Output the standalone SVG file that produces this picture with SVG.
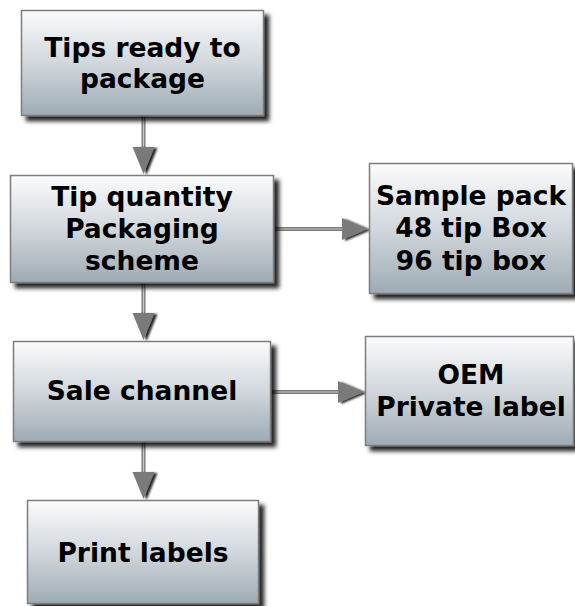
<svg xmlns="http://www.w3.org/2000/svg" width="575" height="606" viewBox="0 0 575 606">
<defs>
<linearGradient id="g" x1="0" y1="0" x2="0" y2="1">
<stop offset="0" stop-color="#fbfbfc"/>
<stop offset="0.5" stop-color="#d1d7dc"/>
<stop offset="1" stop-color="#9eabb4"/>
</linearGradient>
<filter id="sh" x="-10%" y="-10%" width="130%" height="130%">
<feDropShadow dx="5" dy="5" stdDeviation="2" flood-color="#000" flood-opacity="0.85"/>
</filter>
<filter id="ash" x="-30%" y="-30%" width="170%" height="170%">
<feDropShadow dx="3" dy="1" stdDeviation="0.8" flood-color="#000" flood-opacity="0.85"/>
</filter>
</defs>
<style>
.box{fill:url(#g);stroke:#7d7d7d;stroke-width:1.5;filter:url(#sh)}
.t{font-family:"DejaVu Sans",Verdana,sans-serif;font-weight:bold;font-size:26.5px;fill:#000;text-anchor:middle}
.ln{stroke:#7a7a7a;stroke-width:4;fill:none}
.lc{stroke:#c8c8c8;stroke-width:1.2;fill:none}
.ah{fill:#7a7a7a;filter:url(#ash)}
</style>
<g id="connectors">
<line class="ln" x1="143.5" y1="116" x2="143.5" y2="150"/>
<line class="lc" x1="143.5" y1="116" x2="143.5" y2="150"/>
<polygon class="ah" points="132.5,147 154.5,147 143.5,174"/>
<line class="ln" x1="143.5" y1="283" x2="143.5" y2="316"/>
<line class="lc" x1="143.5" y1="283" x2="143.5" y2="316"/>
<polygon class="ah" points="132.5,313 154.5,313 143.5,340"/>
<line class="ln" x1="143.5" y1="442" x2="143.5" y2="475"/>
<line class="lc" x1="143.5" y1="442" x2="143.5" y2="475"/>
<polygon class="ah" points="132.5,472 154.5,472 143.5,499"/>
<line class="ln" x1="275" y1="229" x2="345" y2="229"/>
<line class="lc" x1="275" y1="229" x2="345" y2="229"/>
<polygon class="ah" points="342,218 342,240 368,229"/>
<line class="ln" x1="272" y1="392" x2="341" y2="392"/>
<line class="lc" x1="272" y1="392" x2="341" y2="392"/>
<polygon class="ah" points="338,381 338,403 364,392"/>
</g>
<g id="n1">
<rect class="box" x="21.5" y="10.5" width="242" height="105"/>
<text class="t" x="142.5" y="57">Tips ready to</text>
<text class="t" x="142.5" y="88">package</text>
</g>
<g id="n2">
<rect class="box" x="10.5" y="175.5" width="263" height="107"/>
<text class="t" x="142" y="206">Tip quantity</text>
<text class="t" x="142" y="238">Packaging</text>
<text class="t" x="142" y="270">scheme</text>
</g>
<g id="n3">
<rect class="box" x="369.5" y="163.5" width="203" height="130"/>
<text class="t" x="471" y="205">Sample pack</text>
<text class="t" x="471" y="237">48 tip Box</text>
<text class="t" x="471" y="270">96 tip box</text>
</g>
<g id="n4">
<rect class="box" x="13.5" y="341.5" width="257" height="100"/>
<text class="t" x="142" y="400">Sale channel</text>
</g>
<g id="n5">
<rect class="box" x="365.5" y="336.5" width="208" height="109"/>
<text class="t" x="471" y="384">OEM</text>
<text class="t" x="471" y="416">Private label</text>
</g>
<g id="n6">
<rect class="box" x="27.5" y="500.5" width="231" height="103"/>
<text class="t" x="143" y="562">Print labels</text>
</g>
</svg>
